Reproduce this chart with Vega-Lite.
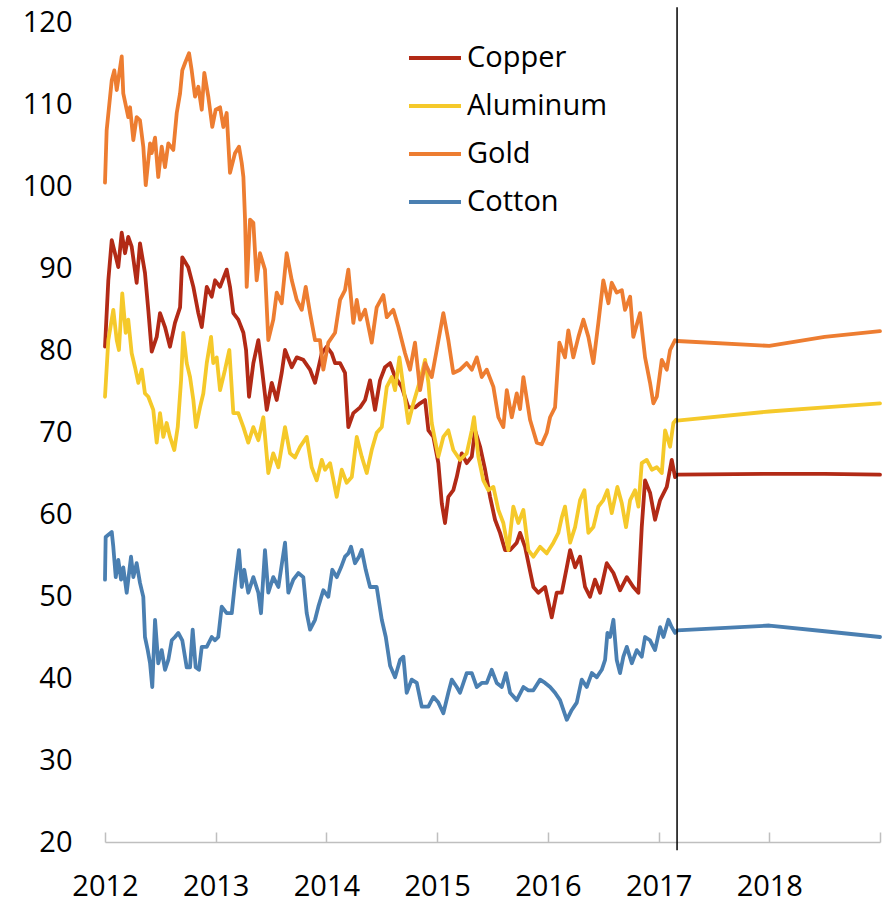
{
  "$schema": "https://vega.github.io/schema/vega-lite/v6.json",
  "width": 775,
  "height": 820,
  "autosize": {"type": "none"},
  "padding": {"left": 105, "top": 22, "right": 3, "bottom": 62},
  "background": "white",
  "config": {
    "font": "Open Sans",
    "view": {"stroke": null},
    "axis": {"labelFont": "Open Sans", "labelFontSize": 29, "labelColor": "#000000", "title": null, "grid": false}
  },
  "layer": [
    {
      "data": {"values": [
        {"commodity":"Copper","year":2012.000,"value":80.4},{"commodity":"Copper","year":2012.030,"value":88.5},{"commodity":"Copper","year":2012.061,"value":93.4},{"commodity":"Copper","year":2012.090,"value":91.8},{"commodity":"Copper","year":2012.120,"value":90.1},{"commodity":"Copper","year":2012.151,"value":94.3},{"commodity":"Copper","year":2012.181,"value":91.8},{"commodity":"Copper","year":2012.210,"value":93.8},{"commodity":"Copper","year":2012.241,"value":92.6},{"commodity":"Copper","year":2012.286,"value":88.2},{"commodity":"Copper","year":2012.316,"value":93.0},{"commodity":"Copper","year":2012.361,"value":89.4},{"commodity":"Copper","year":2012.391,"value":84.9},{"commodity":"Copper","year":2012.422,"value":79.8},{"commodity":"Copper","year":2012.467,"value":81.6},{"commodity":"Copper","year":2012.497,"value":84.5},{"commodity":"Copper","year":2012.542,"value":82.8},{"commodity":"Copper","year":2012.587,"value":80.4},{"commodity":"Copper","year":2012.632,"value":83.3},{"commodity":"Copper","year":2012.678,"value":85.2},{"commodity":"Copper","year":2012.698,"value":91.3},{"commodity":"Copper","year":2012.752,"value":90.1},{"commodity":"Copper","year":2012.798,"value":87.7},{"commodity":"Copper","year":2012.843,"value":84.5},{"commodity":"Copper","year":2012.874,"value":82.8},{"commodity":"Copper","year":2012.919,"value":87.7},{"commodity":"Copper","year":2012.964,"value":86.5},{"commodity":"Copper","year":2012.994,"value":88.5},{"commodity":"Copper","year":2013.039,"value":87.7},{"commodity":"Copper","year":2013.099,"value":89.8},{"commodity":"Copper","year":2013.129,"value":87.7},{"commodity":"Copper","year":2013.159,"value":84.5},{"commodity":"Copper","year":2013.204,"value":83.7},{"commodity":"Copper","year":2013.250,"value":82.1},{"commodity":"Copper","year":2013.274,"value":80.0},{"commodity":"Copper","year":2013.301,"value":74.3},{"commodity":"Copper","year":2013.340,"value":78.4},{"commodity":"Copper","year":2013.385,"value":81.2},{"commodity":"Copper","year":2013.416,"value":77.9},{"commodity":"Copper","year":2013.461,"value":72.7},{"commodity":"Copper","year":2013.506,"value":76.0},{"commodity":"Copper","year":2013.551,"value":73.9},{"commodity":"Copper","year":2013.596,"value":77.2},{"commodity":"Copper","year":2013.626,"value":80.0},{"commodity":"Copper","year":2013.687,"value":77.9},{"commodity":"Copper","year":2013.732,"value":79.1},{"commodity":"Copper","year":2013.791,"value":78.8},{"commodity":"Copper","year":2013.852,"value":77.6},{"commodity":"Copper","year":2013.897,"value":76.0},{"commodity":"Copper","year":2013.958,"value":79.6},{"commodity":"Copper","year":2014.003,"value":80.4},{"commodity":"Copper","year":2014.048,"value":79.6},{"commodity":"Copper","year":2014.078,"value":78.4},{"commodity":"Copper","year":2014.123,"value":78.4},{"commodity":"Copper","year":2014.168,"value":77.2},{"commodity":"Copper","year":2014.198,"value":70.6},{"commodity":"Copper","year":2014.243,"value":72.3},{"commodity":"Copper","year":2014.304,"value":73.0},{"commodity":"Copper","year":2014.349,"value":73.9},{"commodity":"Copper","year":2014.394,"value":76.3},{"commodity":"Copper","year":2014.439,"value":72.7},{"commodity":"Copper","year":2014.484,"value":76.3},{"commodity":"Copper","year":2014.529,"value":77.9},{"commodity":"Copper","year":2014.575,"value":78.4},{"commodity":"Copper","year":2014.620,"value":76.7},{"commodity":"Copper","year":2014.680,"value":75.5},{"commodity":"Copper","year":2014.740,"value":73.0},{"commodity":"Copper","year":2014.800,"value":73.0},{"commodity":"Copper","year":2014.846,"value":73.5},{"commodity":"Copper","year":2014.891,"value":73.9},{"commodity":"Copper","year":2014.921,"value":70.2},{"commodity":"Copper","year":2014.966,"value":69.4},{"commodity":"Copper","year":2015.011,"value":66.2},{"commodity":"Copper","year":2015.042,"value":61.3},{"commodity":"Copper","year":2015.071,"value":58.9},{"commodity":"Copper","year":2015.101,"value":62.1},{"commodity":"Copper","year":2015.146,"value":62.9},{"commodity":"Copper","year":2015.177,"value":64.5},{"commodity":"Copper","year":2015.222,"value":67.4},{"commodity":"Copper","year":2015.267,"value":66.2},{"commodity":"Copper","year":2015.313,"value":67.0},{"commodity":"Copper","year":2015.342,"value":70.2},{"commodity":"Copper","year":2015.388,"value":68.2},{"commodity":"Copper","year":2015.433,"value":65.4},{"commodity":"Copper","year":2015.478,"value":62.1},{"commodity":"Copper","year":2015.523,"value":59.3},{"commodity":"Copper","year":2015.568,"value":57.7},{"commodity":"Copper","year":2015.613,"value":55.6},{"commodity":"Copper","year":2015.659,"value":55.6},{"commodity":"Copper","year":2015.719,"value":56.5},{"commodity":"Copper","year":2015.749,"value":57.7},{"commodity":"Copper","year":2015.794,"value":56.0},{"commodity":"Copper","year":2015.869,"value":51.1},{"commodity":"Copper","year":2015.914,"value":50.4},{"commodity":"Copper","year":2015.975,"value":51.1},{"commodity":"Copper","year":2016.035,"value":47.4},{"commodity":"Copper","year":2016.080,"value":50.4},{"commodity":"Copper","year":2016.126,"value":50.4},{"commodity":"Copper","year":2016.171,"value":53.5},{"commodity":"Copper","year":2016.201,"value":55.6},{"commodity":"Copper","year":2016.246,"value":53.5},{"commodity":"Copper","year":2016.291,"value":54.8},{"commodity":"Copper","year":2016.336,"value":51.1},{"commodity":"Copper","year":2016.381,"value":49.9},{"commodity":"Copper","year":2016.426,"value":52.0},{"commodity":"Copper","year":2016.472,"value":50.4},{"commodity":"Copper","year":2016.532,"value":54.0},{"commodity":"Copper","year":2016.592,"value":52.8},{"commodity":"Copper","year":2016.652,"value":50.7},{"commodity":"Copper","year":2016.713,"value":52.3},{"commodity":"Copper","year":2016.772,"value":51.1},{"commodity":"Copper","year":2016.818,"value":50.4},{"commodity":"Copper","year":2016.848,"value":58.4},{"commodity":"Copper","year":2016.878,"value":64.1},{"commodity":"Copper","year":2016.923,"value":62.6},{"commodity":"Copper","year":2016.968,"value":59.3},{"commodity":"Copper","year":2017.014,"value":61.7},{"commodity":"Copper","year":2017.074,"value":63.3},{"commodity":"Copper","year":2017.119,"value":66.6},{"commodity":"Copper","year":2017.149,"value":64.5},{"commodity":"Copper","year":2017.167,"value":64.8},{"commodity":"Copper","year":2018.000,"value":64.9},{"commodity":"Copper","year":2018.500,"value":64.9},{"commodity":"Copper","year":2019.000,"value":64.8},
        {"commodity":"Aluminum","year":2012.000,"value":74.3},{"commodity":"Aluminum","year":2012.030,"value":81.2},{"commodity":"Aluminum","year":2012.075,"value":84.9},{"commodity":"Aluminum","year":2012.106,"value":81.2},{"commodity":"Aluminum","year":2012.126,"value":80.0},{"commodity":"Aluminum","year":2012.156,"value":86.9},{"commodity":"Aluminum","year":2012.187,"value":82.1},{"commodity":"Aluminum","year":2012.210,"value":83.7},{"commodity":"Aluminum","year":2012.241,"value":79.6},{"commodity":"Aluminum","year":2012.271,"value":77.9},{"commodity":"Aluminum","year":2012.301,"value":76.0},{"commodity":"Aluminum","year":2012.332,"value":77.6},{"commodity":"Aluminum","year":2012.361,"value":74.7},{"commodity":"Aluminum","year":2012.391,"value":74.3},{"commodity":"Aluminum","year":2012.436,"value":72.7},{"commodity":"Aluminum","year":2012.467,"value":68.7},{"commodity":"Aluminum","year":2012.497,"value":72.3},{"commodity":"Aluminum","year":2012.527,"value":69.4},{"commodity":"Aluminum","year":2012.557,"value":71.1},{"commodity":"Aluminum","year":2012.587,"value":69.4},{"commodity":"Aluminum","year":2012.626,"value":67.8},{"commodity":"Aluminum","year":2012.657,"value":70.6},{"commodity":"Aluminum","year":2012.687,"value":76.3},{"commodity":"Aluminum","year":2012.707,"value":82.1},{"commodity":"Aluminum","year":2012.738,"value":78.4},{"commodity":"Aluminum","year":2012.768,"value":76.7},{"commodity":"Aluminum","year":2012.798,"value":73.9},{"commodity":"Aluminum","year":2012.822,"value":70.6},{"commodity":"Aluminum","year":2012.858,"value":73.0},{"commodity":"Aluminum","year":2012.888,"value":74.7},{"commodity":"Aluminum","year":2012.919,"value":78.4},{"commodity":"Aluminum","year":2012.958,"value":81.6},{"commodity":"Aluminum","year":2012.978,"value":78.4},{"commodity":"Aluminum","year":2013.009,"value":79.1},{"commodity":"Aluminum","year":2013.039,"value":75.1},{"commodity":"Aluminum","year":2013.084,"value":77.6},{"commodity":"Aluminum","year":2013.123,"value":80.0},{"commodity":"Aluminum","year":2013.159,"value":72.3},{"commodity":"Aluminum","year":2013.204,"value":72.3},{"commodity":"Aluminum","year":2013.250,"value":70.6},{"commodity":"Aluminum","year":2013.294,"value":68.7},{"commodity":"Aluminum","year":2013.340,"value":70.6},{"commodity":"Aluminum","year":2013.385,"value":69.0},{"commodity":"Aluminum","year":2013.430,"value":71.8},{"commodity":"Aluminum","year":2013.475,"value":65.0},{"commodity":"Aluminum","year":2013.520,"value":67.4},{"commodity":"Aluminum","year":2013.566,"value":65.7},{"commodity":"Aluminum","year":2013.626,"value":70.6},{"commodity":"Aluminum","year":2013.671,"value":67.4},{"commodity":"Aluminum","year":2013.716,"value":66.9},{"commodity":"Aluminum","year":2013.762,"value":68.2},{"commodity":"Aluminum","year":2013.822,"value":69.4},{"commodity":"Aluminum","year":2013.867,"value":65.7},{"commodity":"Aluminum","year":2013.912,"value":64.1},{"commodity":"Aluminum","year":2013.958,"value":66.6},{"commodity":"Aluminum","year":2013.987,"value":65.4},{"commodity":"Aluminum","year":2014.033,"value":66.2},{"commodity":"Aluminum","year":2014.093,"value":62.1},{"commodity":"Aluminum","year":2014.138,"value":65.4},{"commodity":"Aluminum","year":2014.183,"value":63.8},{"commodity":"Aluminum","year":2014.229,"value":64.5},{"commodity":"Aluminum","year":2014.274,"value":69.4},{"commodity":"Aluminum","year":2014.319,"value":67.0},{"commodity":"Aluminum","year":2014.364,"value":65.0},{"commodity":"Aluminum","year":2014.409,"value":67.8},{"commodity":"Aluminum","year":2014.454,"value":69.9},{"commodity":"Aluminum","year":2014.500,"value":70.6},{"commodity":"Aluminum","year":2014.545,"value":75.5},{"commodity":"Aluminum","year":2014.590,"value":76.7},{"commodity":"Aluminum","year":2014.620,"value":75.1},{"commodity":"Aluminum","year":2014.659,"value":79.1},{"commodity":"Aluminum","year":2014.695,"value":75.5},{"commodity":"Aluminum","year":2014.740,"value":71.1},{"commodity":"Aluminum","year":2014.785,"value":73.5},{"commodity":"Aluminum","year":2014.846,"value":76.3},{"commodity":"Aluminum","year":2014.891,"value":78.8},{"commodity":"Aluminum","year":2014.921,"value":76.0},{"commodity":"Aluminum","year":2014.951,"value":71.1},{"commodity":"Aluminum","year":2014.981,"value":69.0},{"commodity":"Aluminum","year":2015.011,"value":67.0},{"commodity":"Aluminum","year":2015.056,"value":69.4},{"commodity":"Aluminum","year":2015.101,"value":70.2},{"commodity":"Aluminum","year":2015.146,"value":67.8},{"commodity":"Aluminum","year":2015.207,"value":66.6},{"commodity":"Aluminum","year":2015.267,"value":67.4},{"commodity":"Aluminum","year":2015.313,"value":70.2},{"commodity":"Aluminum","year":2015.333,"value":71.8},{"commodity":"Aluminum","year":2015.372,"value":67.0},{"commodity":"Aluminum","year":2015.417,"value":64.1},{"commodity":"Aluminum","year":2015.462,"value":62.9},{"commodity":"Aluminum","year":2015.508,"value":63.3},{"commodity":"Aluminum","year":2015.553,"value":60.5},{"commodity":"Aluminum","year":2015.598,"value":58.9},{"commodity":"Aluminum","year":2015.643,"value":55.6},{"commodity":"Aluminum","year":2015.688,"value":60.9},{"commodity":"Aluminum","year":2015.733,"value":58.9},{"commodity":"Aluminum","year":2015.779,"value":60.5},{"commodity":"Aluminum","year":2015.824,"value":55.6},{"commodity":"Aluminum","year":2015.869,"value":54.8},{"commodity":"Aluminum","year":2015.930,"value":56.0},{"commodity":"Aluminum","year":2015.990,"value":55.2},{"commodity":"Aluminum","year":2016.050,"value":56.5},{"commodity":"Aluminum","year":2016.095,"value":57.7},{"commodity":"Aluminum","year":2016.126,"value":59.6},{"commodity":"Aluminum","year":2016.155,"value":60.9},{"commodity":"Aluminum","year":2016.201,"value":56.5},{"commodity":"Aluminum","year":2016.246,"value":58.4},{"commodity":"Aluminum","year":2016.291,"value":61.7},{"commodity":"Aluminum","year":2016.330,"value":62.9},{"commodity":"Aluminum","year":2016.366,"value":57.7},{"commodity":"Aluminum","year":2016.411,"value":58.4},{"commodity":"Aluminum","year":2016.456,"value":60.9},{"commodity":"Aluminum","year":2016.501,"value":61.7},{"commodity":"Aluminum","year":2016.538,"value":62.9},{"commodity":"Aluminum","year":2016.577,"value":60.1},{"commodity":"Aluminum","year":2016.628,"value":63.3},{"commodity":"Aluminum","year":2016.668,"value":61.3},{"commodity":"Aluminum","year":2016.706,"value":58.4},{"commodity":"Aluminum","year":2016.743,"value":61.7},{"commodity":"Aluminum","year":2016.788,"value":62.9},{"commodity":"Aluminum","year":2016.818,"value":60.9},{"commodity":"Aluminum","year":2016.848,"value":66.2},{"commodity":"Aluminum","year":2016.893,"value":66.6},{"commodity":"Aluminum","year":2016.939,"value":65.4},{"commodity":"Aluminum","year":2016.984,"value":65.7},{"commodity":"Aluminum","year":2017.029,"value":65.0},{"commodity":"Aluminum","year":2017.059,"value":70.2},{"commodity":"Aluminum","year":2017.104,"value":68.2},{"commodity":"Aluminum","year":2017.134,"value":71.1},{"commodity":"Aluminum","year":2017.158,"value":71.5},{"commodity":"Aluminum","year":2017.167,"value":71.4},{"commodity":"Aluminum","year":2018.000,"value":72.5},{"commodity":"Aluminum","year":2018.500,"value":73.0},{"commodity":"Aluminum","year":2019.000,"value":73.5},
        {"commodity":"Gold","year":2012.000,"value":100.4},{"commodity":"Gold","year":2012.015,"value":106.8},{"commodity":"Gold","year":2012.061,"value":112.9},{"commodity":"Gold","year":2012.084,"value":114.1},{"commodity":"Gold","year":2012.106,"value":111.7},{"commodity":"Gold","year":2012.151,"value":115.8},{"commodity":"Gold","year":2012.165,"value":111.3},{"commodity":"Gold","year":2012.210,"value":108.4},{"commodity":"Gold","year":2012.226,"value":109.6},{"commodity":"Gold","year":2012.256,"value":105.6},{"commodity":"Gold","year":2012.286,"value":108.4},{"commodity":"Gold","year":2012.316,"value":108.0},{"commodity":"Gold","year":2012.346,"value":104.8},{"commodity":"Gold","year":2012.368,"value":100.1},{"commodity":"Gold","year":2012.407,"value":105.2},{"commodity":"Gold","year":2012.422,"value":104.0},{"commodity":"Gold","year":2012.452,"value":105.9},{"commodity":"Gold","year":2012.481,"value":101.1},{"commodity":"Gold","year":2012.512,"value":104.8},{"commodity":"Gold","year":2012.542,"value":102.3},{"commodity":"Gold","year":2012.572,"value":105.2},{"commodity":"Gold","year":2012.617,"value":104.4},{"commodity":"Gold","year":2012.648,"value":108.9},{"commodity":"Gold","year":2012.678,"value":111.3},{"commodity":"Gold","year":2012.698,"value":114.1},{"commodity":"Gold","year":2012.723,"value":115.0},{"commodity":"Gold","year":2012.759,"value":116.2},{"commodity":"Gold","year":2012.783,"value":114.1},{"commodity":"Gold","year":2012.813,"value":110.9},{"commodity":"Gold","year":2012.843,"value":112.1},{"commodity":"Gold","year":2012.874,"value":109.3},{"commodity":"Gold","year":2012.897,"value":113.8},{"commodity":"Gold","year":2012.933,"value":110.9},{"commodity":"Gold","year":2012.969,"value":107.2},{"commodity":"Gold","year":2013.000,"value":109.3},{"commodity":"Gold","year":2013.039,"value":109.6},{"commodity":"Gold","year":2013.069,"value":107.2},{"commodity":"Gold","year":2013.099,"value":108.9},{"commodity":"Gold","year":2013.129,"value":101.6},{"commodity":"Gold","year":2013.174,"value":104.0},{"commodity":"Gold","year":2013.210,"value":104.8},{"commodity":"Gold","year":2013.235,"value":102.8},{"commodity":"Gold","year":2013.250,"value":101.1},{"commodity":"Gold","year":2013.265,"value":95.9},{"commodity":"Gold","year":2013.280,"value":87.7},{"commodity":"Gold","year":2013.310,"value":95.9},{"commodity":"Gold","year":2013.340,"value":95.5},{"commodity":"Gold","year":2013.370,"value":88.5},{"commodity":"Gold","year":2013.400,"value":91.8},{"commodity":"Gold","year":2013.445,"value":89.8},{"commodity":"Gold","year":2013.475,"value":81.2},{"commodity":"Gold","year":2013.520,"value":83.7},{"commodity":"Gold","year":2013.551,"value":87.0},{"commodity":"Gold","year":2013.596,"value":85.7},{"commodity":"Gold","year":2013.641,"value":91.8},{"commodity":"Gold","year":2013.687,"value":88.5},{"commodity":"Gold","year":2013.732,"value":86.1},{"commodity":"Gold","year":2013.777,"value":84.9},{"commodity":"Gold","year":2013.813,"value":87.7},{"commodity":"Gold","year":2013.852,"value":84.5},{"commodity":"Gold","year":2013.897,"value":81.2},{"commodity":"Gold","year":2013.942,"value":81.2},{"commodity":"Gold","year":2013.972,"value":77.6},{"commodity":"Gold","year":2014.017,"value":80.9},{"commodity":"Gold","year":2014.078,"value":82.1},{"commodity":"Gold","year":2014.123,"value":86.1},{"commodity":"Gold","year":2014.168,"value":87.3},{"commodity":"Gold","year":2014.198,"value":89.8},{"commodity":"Gold","year":2014.243,"value":83.3},{"commodity":"Gold","year":2014.274,"value":86.1},{"commodity":"Gold","year":2014.304,"value":83.7},{"commodity":"Gold","year":2014.349,"value":84.9},{"commodity":"Gold","year":2014.409,"value":80.9},{"commodity":"Gold","year":2014.454,"value":85.2},{"commodity":"Gold","year":2014.514,"value":86.7},{"commodity":"Gold","year":2014.545,"value":84.0},{"commodity":"Gold","year":2014.604,"value":84.9},{"commodity":"Gold","year":2014.650,"value":82.8},{"commodity":"Gold","year":2014.710,"value":79.6},{"commodity":"Gold","year":2014.755,"value":77.6},{"commodity":"Gold","year":2014.800,"value":80.9},{"commodity":"Gold","year":2014.846,"value":75.1},{"commodity":"Gold","year":2014.891,"value":78.4},{"commodity":"Gold","year":2014.951,"value":76.7},{"commodity":"Gold","year":2014.996,"value":80.0},{"commodity":"Gold","year":2015.056,"value":84.5},{"commodity":"Gold","year":2015.101,"value":81.2},{"commodity":"Gold","year":2015.146,"value":77.2},{"commodity":"Gold","year":2015.207,"value":77.6},{"commodity":"Gold","year":2015.267,"value":78.4},{"commodity":"Gold","year":2015.313,"value":77.6},{"commodity":"Gold","year":2015.358,"value":79.1},{"commodity":"Gold","year":2015.403,"value":76.7},{"commodity":"Gold","year":2015.448,"value":77.6},{"commodity":"Gold","year":2015.508,"value":75.5},{"commodity":"Gold","year":2015.553,"value":71.8},{"commodity":"Gold","year":2015.598,"value":70.6},{"commodity":"Gold","year":2015.629,"value":75.1},{"commodity":"Gold","year":2015.674,"value":71.8},{"commodity":"Gold","year":2015.719,"value":74.7},{"commodity":"Gold","year":2015.749,"value":72.8},{"commodity":"Gold","year":2015.779,"value":76.7},{"commodity":"Gold","year":2015.839,"value":71.5},{"commodity":"Gold","year":2015.900,"value":68.7},{"commodity":"Gold","year":2015.945,"value":68.5},{"commodity":"Gold","year":2015.990,"value":69.9},{"commodity":"Gold","year":2016.020,"value":71.8},{"commodity":"Gold","year":2016.065,"value":73.0},{"commodity":"Gold","year":2016.104,"value":80.9},{"commodity":"Gold","year":2016.155,"value":79.1},{"commodity":"Gold","year":2016.185,"value":82.4},{"commodity":"Gold","year":2016.230,"value":79.1},{"commodity":"Gold","year":2016.276,"value":81.6},{"commodity":"Gold","year":2016.321,"value":83.7},{"commodity":"Gold","year":2016.366,"value":81.6},{"commodity":"Gold","year":2016.411,"value":78.4},{"commodity":"Gold","year":2016.456,"value":83.3},{"commodity":"Gold","year":2016.501,"value":88.5},{"commodity":"Gold","year":2016.547,"value":85.7},{"commodity":"Gold","year":2016.577,"value":88.2},{"commodity":"Gold","year":2016.622,"value":87.0},{"commodity":"Gold","year":2016.668,"value":87.3},{"commodity":"Gold","year":2016.697,"value":84.9},{"commodity":"Gold","year":2016.743,"value":86.5},{"commodity":"Gold","year":2016.772,"value":81.6},{"commodity":"Gold","year":2016.833,"value":84.5},{"commodity":"Gold","year":2016.878,"value":79.1},{"commodity":"Gold","year":2016.923,"value":76.0},{"commodity":"Gold","year":2016.953,"value":73.5},{"commodity":"Gold","year":2016.984,"value":74.3},{"commodity":"Gold","year":2017.029,"value":78.8},{"commodity":"Gold","year":2017.074,"value":77.6},{"commodity":"Gold","year":2017.104,"value":80.0},{"commodity":"Gold","year":2017.149,"value":81.2},{"commodity":"Gold","year":2017.167,"value":81.1},{"commodity":"Gold","year":2018.000,"value":80.5},{"commodity":"Gold","year":2018.500,"value":81.6},{"commodity":"Gold","year":2019.000,"value":82.3},
        {"commodity":"Cotton","year":2012.000,"value":52.0},{"commodity":"Cotton","year":2012.006,"value":57.2},{"commodity":"Cotton","year":2012.061,"value":57.8},{"commodity":"Cotton","year":2012.075,"value":56.0},{"commodity":"Cotton","year":2012.097,"value":52.3},{"commodity":"Cotton","year":2012.120,"value":54.4},{"commodity":"Cotton","year":2012.145,"value":52.0},{"commodity":"Cotton","year":2012.165,"value":53.5},{"commodity":"Cotton","year":2012.196,"value":50.4},{"commodity":"Cotton","year":2012.235,"value":54.8},{"commodity":"Cotton","year":2012.256,"value":52.3},{"commodity":"Cotton","year":2012.286,"value":54.0},{"commodity":"Cotton","year":2012.316,"value":51.6},{"commodity":"Cotton","year":2012.346,"value":49.9},{"commodity":"Cotton","year":2012.361,"value":45.0},{"commodity":"Cotton","year":2012.386,"value":43.4},{"commodity":"Cotton","year":2012.407,"value":41.8},{"commodity":"Cotton","year":2012.427,"value":38.9},{"commodity":"Cotton","year":2012.452,"value":47.1},{"commodity":"Cotton","year":2012.481,"value":41.8},{"commodity":"Cotton","year":2012.512,"value":43.4},{"commodity":"Cotton","year":2012.542,"value":41.0},{"commodity":"Cotton","year":2012.572,"value":42.2},{"commodity":"Cotton","year":2012.603,"value":44.6},{"commodity":"Cotton","year":2012.632,"value":45.0},{"commodity":"Cotton","year":2012.662,"value":45.5},{"commodity":"Cotton","year":2012.698,"value":44.6},{"commodity":"Cotton","year":2012.738,"value":41.3},{"commodity":"Cotton","year":2012.768,"value":41.3},{"commodity":"Cotton","year":2012.792,"value":45.9},{"commodity":"Cotton","year":2012.819,"value":41.3},{"commodity":"Cotton","year":2012.849,"value":41.0},{"commodity":"Cotton","year":2012.874,"value":43.8},{"commodity":"Cotton","year":2012.919,"value":43.8},{"commodity":"Cotton","year":2012.964,"value":45.0},{"commodity":"Cotton","year":2012.994,"value":44.6},{"commodity":"Cotton","year":2013.023,"value":45.0},{"commodity":"Cotton","year":2013.054,"value":48.7},{"commodity":"Cotton","year":2013.099,"value":47.9},{"commodity":"Cotton","year":2013.145,"value":47.9},{"commodity":"Cotton","year":2013.174,"value":51.6},{"commodity":"Cotton","year":2013.210,"value":55.6},{"commodity":"Cotton","year":2013.235,"value":51.1},{"commodity":"Cotton","year":2013.258,"value":53.2},{"commodity":"Cotton","year":2013.294,"value":50.4},{"commodity":"Cotton","year":2013.340,"value":52.3},{"commodity":"Cotton","year":2013.385,"value":50.4},{"commodity":"Cotton","year":2013.409,"value":47.9},{"commodity":"Cotton","year":2013.445,"value":55.6},{"commodity":"Cotton","year":2013.475,"value":50.4},{"commodity":"Cotton","year":2013.520,"value":52.3},{"commodity":"Cotton","year":2013.566,"value":51.1},{"commodity":"Cotton","year":2013.626,"value":56.5},{"commodity":"Cotton","year":2013.656,"value":50.4},{"commodity":"Cotton","year":2013.701,"value":52.0},{"commodity":"Cotton","year":2013.746,"value":52.8},{"commodity":"Cotton","year":2013.791,"value":52.3},{"commodity":"Cotton","year":2013.822,"value":47.9},{"commodity":"Cotton","year":2013.852,"value":45.9},{"commodity":"Cotton","year":2013.897,"value":47.1},{"commodity":"Cotton","year":2013.927,"value":48.7},{"commodity":"Cotton","year":2013.972,"value":50.7},{"commodity":"Cotton","year":2014.017,"value":49.9},{"commodity":"Cotton","year":2014.053,"value":53.2},{"commodity":"Cotton","year":2014.093,"value":52.3},{"commodity":"Cotton","year":2014.132,"value":53.5},{"commodity":"Cotton","year":2014.168,"value":54.8},{"commodity":"Cotton","year":2014.198,"value":55.2},{"commodity":"Cotton","year":2014.222,"value":56.0},{"commodity":"Cotton","year":2014.258,"value":54.0},{"commodity":"Cotton","year":2014.294,"value":54.8},{"commodity":"Cotton","year":2014.319,"value":55.6},{"commodity":"Cotton","year":2014.355,"value":53.2},{"commodity":"Cotton","year":2014.394,"value":51.1},{"commodity":"Cotton","year":2014.454,"value":51.1},{"commodity":"Cotton","year":2014.500,"value":47.1},{"commodity":"Cotton","year":2014.536,"value":45.0},{"commodity":"Cotton","year":2014.575,"value":41.5},{"commodity":"Cotton","year":2014.620,"value":40.1},{"commodity":"Cotton","year":2014.665,"value":42.2},{"commodity":"Cotton","year":2014.695,"value":42.6},{"commodity":"Cotton","year":2014.725,"value":38.2},{"commodity":"Cotton","year":2014.770,"value":39.8},{"commodity":"Cotton","year":2014.816,"value":39.4},{"commodity":"Cotton","year":2014.861,"value":36.5},{"commodity":"Cotton","year":2014.921,"value":36.5},{"commodity":"Cotton","year":2014.966,"value":37.7},{"commodity":"Cotton","year":2015.011,"value":37.0},{"commodity":"Cotton","year":2015.056,"value":35.7},{"commodity":"Cotton","year":2015.101,"value":38.2},{"commodity":"Cotton","year":2015.132,"value":39.8},{"commodity":"Cotton","year":2015.177,"value":38.9},{"commodity":"Cotton","year":2015.207,"value":38.2},{"commodity":"Cotton","year":2015.267,"value":40.6},{"commodity":"Cotton","year":2015.313,"value":40.6},{"commodity":"Cotton","year":2015.358,"value":38.9},{"commodity":"Cotton","year":2015.403,"value":39.4},{"commodity":"Cotton","year":2015.448,"value":39.4},{"commodity":"Cotton","year":2015.493,"value":41.0},{"commodity":"Cotton","year":2015.538,"value":39.4},{"commodity":"Cotton","year":2015.584,"value":38.9},{"commodity":"Cotton","year":2015.622,"value":40.6},{"commodity":"Cotton","year":2015.659,"value":38.2},{"commodity":"Cotton","year":2015.719,"value":37.3},{"commodity":"Cotton","year":2015.779,"value":38.9},{"commodity":"Cotton","year":2015.824,"value":38.5},{"commodity":"Cotton","year":2015.869,"value":38.5},{"commodity":"Cotton","year":2015.930,"value":39.8},{"commodity":"Cotton","year":2015.975,"value":39.4},{"commodity":"Cotton","year":2016.020,"value":38.9},{"commodity":"Cotton","year":2016.065,"value":38.2},{"commodity":"Cotton","year":2016.110,"value":37.3},{"commodity":"Cotton","year":2016.140,"value":36.1},{"commodity":"Cotton","year":2016.171,"value":34.9},{"commodity":"Cotton","year":2016.216,"value":36.1},{"commodity":"Cotton","year":2016.261,"value":37.0},{"commodity":"Cotton","year":2016.306,"value":39.8},{"commodity":"Cotton","year":2016.351,"value":38.9},{"commodity":"Cotton","year":2016.397,"value":40.6},{"commodity":"Cotton","year":2016.442,"value":40.1},{"commodity":"Cotton","year":2016.487,"value":41.0},{"commodity":"Cotton","year":2016.517,"value":42.2},{"commodity":"Cotton","year":2016.538,"value":45.5},{"commodity":"Cotton","year":2016.562,"value":45.0},{"commodity":"Cotton","year":2016.592,"value":47.1},{"commodity":"Cotton","year":2016.622,"value":42.2},{"commodity":"Cotton","year":2016.652,"value":40.6},{"commodity":"Cotton","year":2016.682,"value":42.6},{"commodity":"Cotton","year":2016.713,"value":43.8},{"commodity":"Cotton","year":2016.758,"value":41.8},{"commodity":"Cotton","year":2016.803,"value":43.4},{"commodity":"Cotton","year":2016.848,"value":42.6},{"commodity":"Cotton","year":2016.878,"value":45.0},{"commodity":"Cotton","year":2016.923,"value":44.6},{"commodity":"Cotton","year":2016.968,"value":43.4},{"commodity":"Cotton","year":2017.014,"value":46.2},{"commodity":"Cotton","year":2017.044,"value":45.0},{"commodity":"Cotton","year":2017.089,"value":47.1},{"commodity":"Cotton","year":2017.119,"value":46.2},{"commodity":"Cotton","year":2017.149,"value":45.5},{"commodity":"Cotton","year":2017.167,"value":45.8},{"commodity":"Cotton","year":2018.000,"value":46.4},{"commodity":"Cotton","year":2018.500,"value":45.7},{"commodity":"Cotton","year":2019.000,"value":45.0}
      ]},
      "mark": {"type": "line", "strokeWidth": 3.8, "strokeJoin": "round", "strokeCap": "round"},
      "encoding": {
        "x": {
          "field": "year", "type": "quantitative",
          "scale": {"domain": [2012, 2019], "nice": false, "zero": false},
          "axis": {
            "values": [2012, 2013, 2014, 2015, 2016, 2017, 2018, 2019],
            "format": "d",
            "labelExpr": "datum.value == 2019 ? '' : datum.label",
            "domainColor": "#BFBFBF", "domainWidth": 1.5,
            "tickColor": "#BFBFBF", "tickWidth": 1.5, "tickSize": -10,
            "labelPadding": 40, "labelFlush": false, "labelOverlap": false
          }
        },
        "y": {
          "field": "value", "type": "quantitative",
          "scale": {"domain": [20, 120], "nice": false, "zero": false},
          "axis": {
            "values": [20, 30, 40, 50, 60, 70, 80, 90, 100, 110, 120],
            "domain": false, "ticks": false, "labelPadding": 33
          }
        },
        "color": {
          "field": "commodity", "type": "nominal",
          "scale": {"domain": ["Copper", "Aluminum", "Gold", "Cotton"], "range": ["#B22A16", "#F5C92A", "#ED7D31", "#4A7FB1"]},
          "legend": {
            "orient": "none", "legendX": 302, "legendY": 8, "title": null,
            "symbolType": "stroke", "symbolSize": 2704, "symbolStrokeWidth": 4,
            "labelFont": "Open Sans", "labelFontSize": 29, "labelColor": "#000000",
            "labelOffset": 4, "rowPadding": 5, "padding": 0
          }
        }
      }
    },
    {
      "data": {"values": [{"year": 2017.167, "low": 19.0, "high": 121.8}]},
      "mark": {"type": "rule", "color": "#000000", "strokeWidth": 1.5},
      "encoding": {
        "x": {"field": "year", "type": "quantitative"},
        "y": {"field": "low", "type": "quantitative"},
        "y2": {"field": "high"}
      }
    }
  ]
}
